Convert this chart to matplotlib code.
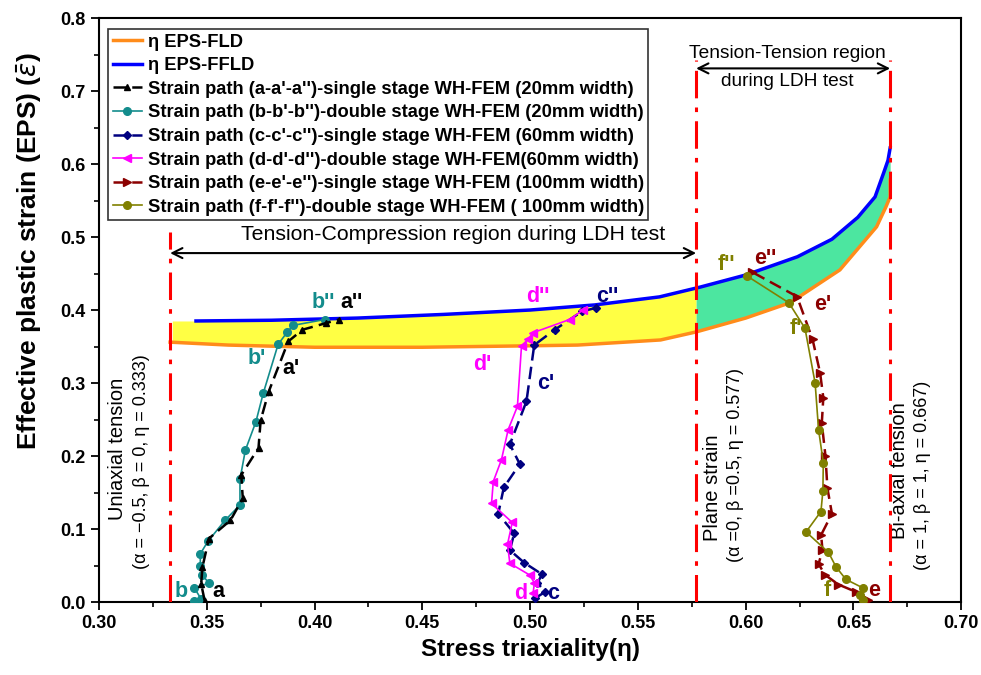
import numpy as np
import matplotlib
matplotlib.use("Agg")
import matplotlib.pyplot as plt

plt.rcParams['font.family'] = ['Liberation Sans', 'DejaVu Sans']
plt.rcParams['mathtext.fontset'] = 'dejavusans'

# ---- data ----
ffld_x = [0.345, 0.38, 0.42, 0.46, 0.50, 0.53, 0.56, 0.579, 0.60, 0.624, 0.64, 0.652, 0.66, 0.664, 0.666, 0.667]
ffld_y = [0.385, 0.386, 0.389, 0.394, 0.40, 0.407, 0.418, 0.4315, 0.448, 0.473, 0.497, 0.527, 0.555, 0.588, 0.605, 0.622]
fld_x = [0.333, 0.36, 0.40, 0.45, 0.50, 0.522, 0.5605, 0.577, 0.60, 0.6206, 0.6437, 0.6607, 0.665, 0.667, 0.667]
fld_y = [0.356, 0.352, 0.349, 0.349, 0.351, 0.352, 0.359, 0.37, 0.389, 0.41, 0.455, 0.514, 0.541, 0.555, 0.578]

a_x = [0.349, 0.3474, 0.348, 0.351, 0.361, 0.3667, 0.366, 0.374, 0.375, 0.3787, 0.3878, 0.3944, 0.4052, 0.4113]
a_y = [0.002, 0.025, 0.048, 0.087, 0.112, 0.142, 0.174, 0.211, 0.249, 0.288, 0.357, 0.373, 0.382, 0.387]
b_x = [0.3443, 0.3474, 0.3443, 0.351, 0.3479, 0.347, 0.347, 0.3505, 0.3585, 0.3654, 0.3654, 0.3679, 0.3728, 0.3762, 0.3831, 0.3874, 0.3901, 0.4047]
b_y = [0.002, 0.004, 0.019, 0.026, 0.037, 0.049, 0.066, 0.083, 0.112, 0.133, 0.168, 0.208, 0.247, 0.286, 0.353, 0.370, 0.379, 0.387]
c_x = [0.5022, 0.507, 0.5034, 0.5055, 0.4972, 0.4906, 0.4926, 0.4852, 0.4878, 0.4952, 0.4906, 0.4983, 0.5019, 0.5114, 0.524, 0.5305]
c_y = [0.005, 0.014, 0.026, 0.038, 0.054, 0.071, 0.094, 0.121, 0.157, 0.189, 0.216, 0.275, 0.352, 0.373, 0.398, 0.403]
d_x = [0.5014, 0.502, 0.4998, 0.4906, 0.4895, 0.4917, 0.4821, 0.4829, 0.4867, 0.4898, 0.4941, 0.496, 0.4991, 0.5014, 0.5183, 0.5245]
d_y = [0.013, 0.026, 0.037, 0.053, 0.079, 0.109, 0.135, 0.165, 0.195, 0.236, 0.268, 0.351, 0.36, 0.369, 0.387, 0.40]
e_x = [0.6568, 0.6511, 0.643, 0.6369, 0.6338, 0.6356, 0.635, 0.640, 0.6379, 0.637, 0.6353, 0.636, 0.6345, 0.631, 0.6238, 0.603]
e_y = [0.003, 0.014, 0.024, 0.037, 0.052, 0.071, 0.092, 0.121, 0.156, 0.20, 0.245, 0.28, 0.314, 0.36, 0.4185, 0.452]
f_x = [0.6546, 0.653, 0.6546, 0.6465, 0.6419, 0.6384, 0.628, 0.6349, 0.6358, 0.636, 0.6338, 0.6322, 0.6275, 0.62, 0.6004]
f_y = [0.003, 0.0096, 0.019, 0.031, 0.048, 0.068, 0.096, 0.124, 0.152, 0.191, 0.236, 0.30, 0.375, 0.41, 0.447]

ref_eta = [0.333, 0.577, 0.667]
ref_top = [0.507, 0.742, 0.742]

legend_labels = [
    "η EPS-FLD",
    "η EPS-FFLD",
    "Strain path (a-a'-a'')-single stage WH-FEM (20mm width)",
    "Strain path (b-b'-b'')-double stage WH-FEM (20mm width)",
    "Strain path (c-c'-c'')-single stage WH-FEM (60mm width)",
    "Strain path (d-d'-d'')-double stage WH-FEM(60mm width)",
    "Strain path (e-e'-e'')-single stage WH-FEM (100mm width)",
    "Strain path (f-f'-f'')-double stage WH-FEM ( 100mm width)",
]

fig = plt.figure(figsize=(9.81, 6.75), dpi=100)
ax = fig.add_axes([0.1009, 0.1081, 0.879, 0.8652])

# fills
xs1 = np.linspace(0.334, 0.577, 200)
ax.fill_between(xs1, np.interp(xs1, fld_x, fld_y), np.interp(xs1, ffld_x, ffld_y),
                color='#FFFF44', lw=0, zorder=1)
xs2 = np.linspace(0.577, 0.667, 200)
ax.fill_between(xs2, np.interp(xs2, fld_x[:-1], fld_y[:-1]), np.interp(xs2, ffld_x[:-1], ffld_y[:-1]),
                color='#4CE6A0', lw=0, zorder=1)

ax.plot(fld_x, fld_y, color='#FF8C1A', lw=2.5, zorder=2, label=legend_labels[0])
ax.plot(ffld_x, ffld_y, color='#0000FF', lw=2.5, zorder=2, label=legend_labels[1])

ax.plot(a_x, a_y, color='black', ls=(0, (5, 2.5)), lw=1.8, marker='^', ms=5, zorder=4, label=legend_labels[2])
ax.plot(b_x, b_y, color='#138C8C', ls='-', lw=1.2, marker='o', ms=5.5, zorder=3, label=legend_labels[3])
ax.plot(c_x, c_y, color='#000080', ls=(0, (5, 2.5)), lw=1.8, marker='D', ms=4.5, zorder=3, label=legend_labels[4])
ax.plot(d_x, d_y, color='#FF00FF', ls='-', lw=1.2, marker='<', ms=5.5, zorder=4, label=legend_labels[5])
ax.plot(e_x, e_y, color='#8B0000', ls=(0, (5, 2.5)), lw=1.8, marker='>', ms=5.5, zorder=3, label=legend_labels[6])
ax.plot(f_x, f_y, color='#808000', ls='-', lw=1.2, marker='o', ms=5.5, zorder=4, label=legend_labels[7])

# reference lines
ax.vlines(ref_eta, 0, ref_top, colors='red', linestyles=[(0, (9, 3, 1.5, 3))], lw=2.2, zorder=5)

# arrows
ax.annotate('', xy=(ref_eta[0], 0.478), xytext=(ref_eta[1], 0.478),
            arrowprops=dict(arrowstyle='<->', color='black', lw=1.5, mutation_scale=18, shrinkA=0, shrinkB=0))
ax.annotate('', xy=(ref_eta[1], 0.731), xytext=(ref_eta[2], 0.731),
            arrowprops=dict(arrowstyle='<->', color='black', lw=1.5, mutation_scale=18, shrinkA=0, shrinkB=0))
ax.text(0.4644, 0.503, 'Tension-Compression region during LDH test', ha='center', va='center', fontsize=15.3)
ax.text(0.6195, 0.7516, 'Tension-Tension region', ha='center', va='center', fontsize=13.8)
ax.text(0.6195, 0.713, 'during LDH test', ha='center', va='center', fontsize=13.8)

# vertical texts
ax.text(0.3088, 0.21, 'Uniaxial tension', rotation=90, ha='center', va='center', fontsize=14.5)
ax.text(0.3195, 0.193, '(α = −0.5, β = 0, η = 0.333)', rotation=90, ha='center', va='center', fontsize=13)
ax.text(0.5845, 0.157, 'Plane strain', rotation=90, ha='center', va='center', fontsize=14.5)
ax.text(0.5952, 0.188, '(α =0, β =0.5, η = 0.577)', rotation=90, ha='center', va='center', fontsize=13)
ax.text(0.6714, 0.18, 'Bi-axial tension', rotation=90, ha='center', va='center', fontsize=14.5)
ax.text(0.682, 0.174, '(α = 1, β = 1, η = 0.667)', rotation=90, ha='center', va='center', fontsize=13)

# point labels
lab = dict(ha='center', va='center', fontsize=15.5, fontweight='bold')
ax.text(0.404, 0.41, "b''", color='#138C8C', **lab)
ax.text(0.417, 0.41, "a''", color='black', **lab)
ax.text(0.373, 0.334, "b'", color='#138C8C', **lab)
ax.text(0.389, 0.32, "a'", color='black', **lab)
ax.text(0.338, 0.015, "b", color='#138C8C', **lab)
ax.text(0.3554, 0.015, "a", color='black', **lab)
ax.text(0.5037, 0.419, "d''", color='#FF00FF', **lab)
ax.text(0.536, 0.419, "c''", color='#000080', **lab)
ax.text(0.478, 0.325, "d'", color='#FF00FF', **lab)
ax.text(0.507, 0.30, "c'", color='#000080', **lab)
ax.text(0.4958, 0.012, "d", color='#FF00FF', **lab)
ax.text(0.5106, 0.012, "c", color='#000080', **lab)
ax.text(0.609, 0.471, "e''", color='#8B0000', **lab)
ax.text(0.591, 0.462, "f''", color='#808000', **lab)
ax.text(0.6233, 0.375, "f'", color='#808000', **lab)
ax.text(0.6358, 0.408, "e'", color='#8B0000', **lab)
ax.text(0.638, 0.016, "f", color='#808000', **lab)
ax.text(0.6598, 0.016, "e", color='#8B0000', **lab)

ax.set_xlim(0.30, 0.70)
ax.set_ylim(0.0, 0.8)
ax.set_xticks(np.arange(0.30, 0.701, 0.05))
ax.set_yticks(np.arange(0.0, 0.801, 0.1))
ax.set_xticks(np.arange(0.325, 0.70, 0.05), minor=True)
ax.set_yticks(np.arange(0.05, 0.80, 0.1), minor=True)
ax.xaxis.set_major_formatter(matplotlib.ticker.FormatStrFormatter('%.2f'))
ax.yaxis.set_major_formatter(matplotlib.ticker.FormatStrFormatter('%.1f'))
ax.tick_params(which='major', direction='out', length=6, width=1.3, labelsize=13)
ax.tick_params(which='minor', direction='out', length=3.5, width=1.2)
for t in ax.get_xticklabels() + ax.get_yticklabels():
    t.set_fontweight('bold')
for s in ax.spines.values():
    s.set_linewidth(1.5)

ax.set_xlabel('Stress triaxiality(η)', fontsize=17.5, fontweight='bold', labelpad=4)
ax.set_ylabel(r'Effective plastic strain (EPS) ($\bar{\varepsilon}$)', fontsize=19, fontweight='bold')
ax.yaxis.set_label_coords(-0.064, 0.6)

leg = ax.legend(loc='upper left', bbox_to_anchor=(0.0, 0.997), frameon=True, fancybox=False,
                edgecolor='black', prop={'weight': 'bold', 'size': 13.2}, handlelength=1.6,
                handletextpad=0.3, labelspacing=0.36, borderpad=0.25, numpoints=1)
leg.get_frame().set_linewidth(1.2)

fig.savefig('out.png', dpi=100)
